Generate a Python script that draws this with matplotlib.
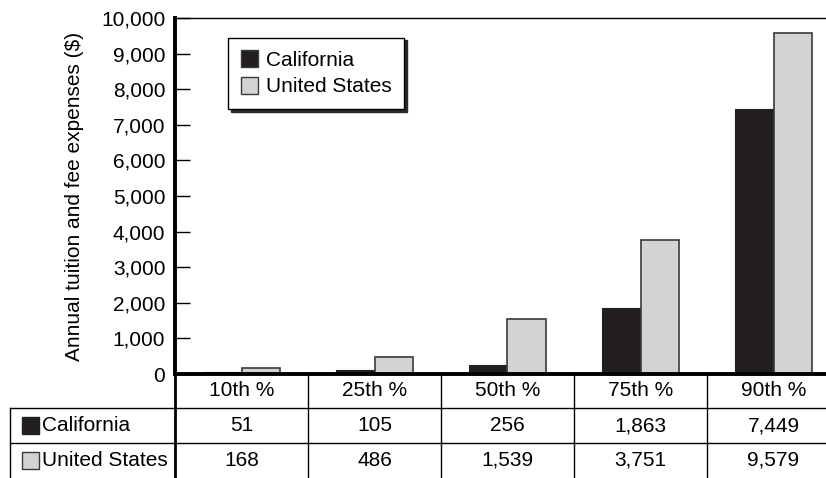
import matplotlib
matplotlib.use("Agg")
import matplotlib.pyplot as plt
from matplotlib.lines import Line2D
from matplotlib.patches import Rectangle
import numpy as np

plt.rcParams['font.family'] = ['Liberation Sans', 'DejaVu Sans']

categories = ["10th %", "25th %", "50th %", "75th %", "90th %"]
series_names = ["California", "United States"]
california = [51, 105, 256, 1863, 7449]
united_states = [168, 486, 1539, 3751, 9579]
yticks = [0, 1000, 2000, 3000, 4000, 5000, 6000, 7000, 8000, 9000, 10000]

dark = "#231f20"
light = "#d1d3d4"
edge = "#3a3a3a"
fs = 15

W, H = 826, 478
fig = plt.figure(figsize=(W / 100, H / 100), dpi=100)


def fx(x):
    return x / W


def fy(y):
    return 1 - y / H


# plot area in pixel terms
left_px, right_px, top_px, base_px = 175, 840, 18, 374
ax = fig.add_axes([fx(left_px), fy(base_px), fx(right_px - left_px), (base_px - top_px) / H])

x = np.arange(len(categories))
bw = 0.286
ax.bar(x - bw / 2, california, bw, color=dark, edgecolor=dark, linewidth=0.8, label=series_names[0])
ax.bar(x + bw / 2, united_states, bw, color=light, edgecolor=edge, linewidth=1.2, label=series_names[1])

ax.set_xlim(-0.5, len(categories) - 0.5)
ax.set_ylim(0, 10000)
ax.set_yticks(yticks)
ax.set_yticklabels([f"{v:,}" for v in yticks])
ax.set_xticks([])
ax.tick_params(axis='y', direction='in', length=11, width=1, labelsize=fs, pad=7, colors='black')
ax.spines['right'].set_visible(False)
ax.spines['left'].set_linewidth(2.8)
ax.spines['bottom'].set_linewidth(2.8)
ax.spines['top'].set_linewidth(1.0)
ax.set_ylabel("Annual tuition and fee expenses ($)", fontsize=fs, labelpad=12)

leg = ax.legend(loc='upper left', bbox_to_anchor=(0.08, 0.945), fontsize=fs,
                frameon=True, fancybox=False, edgecolor='black',
                shadow={'color': '#2a2a2a', 'alpha': 1.0},
                handlelength=0.85, handleheight=0.85, handletextpad=0.35,
                borderpad=0.6, labelspacing=0.35, borderaxespad=0)
leg.get_frame().set_linewidth(1.0)
for h in leg.legend_handles:
    h.set_edgecolor(edge)
    h.set_linewidth(1.0)

# data table below the plot
col_w = (right_px - left_px) / len(categories)
row_y = [374, 408, 443, 478]
label_left = 10
lw = 1.0


def hline(y, x0, x1):
    fig.add_artist(Line2D([fx(x0), fx(x1)], [fy(y), fy(y)], color='black', lw=lw))


def vline(x0, y0, y1, w=lw):
    fig.add_artist(Line2D([fx(x0), fx(x0)], [fy(y0), fy(y1)], color='black', lw=w))


hline(row_y[1], label_left, W + 20)
hline(row_y[2], label_left, W + 20)
vline(label_left, row_y[1], row_y[3])
vline(left_px, row_y[0], row_y[3], w=2.0)
for i in range(1, len(categories)):
    vline(left_px + i * col_w, row_y[0], row_y[3])

for i, c in enumerate(categories):
    cx = left_px + (i + 0.5) * col_w
    fig.text(fx(cx), fy((row_y[0] + row_y[1]) / 2), c, ha='center', va='center', fontsize=fs)

rows = [(series_names[0], california, dark, dark), (series_names[1], united_states, light, edge)]
for r, (name, vals, fc, ec) in enumerate(rows):
    cy = (row_y[r + 1] + row_y[r + 2]) / 2
    fig.add_artist(Rectangle((fx(22), fy(cy + 8)), fx(17), 17 / H, facecolor=fc,
                             edgecolor=ec, lw=1.0, transform=fig.transFigure))
    fig.text(fx(42), fy(cy), name, ha='left', va='center', fontsize=fs)
    for i, v in enumerate(vals):
        cx = left_px + (i + 0.5) * col_w
        fig.text(fx(cx), fy(cy), f"{v:,}", ha='center', va='center', fontsize=fs)

fig.savefig("out.png", dpi=100)
